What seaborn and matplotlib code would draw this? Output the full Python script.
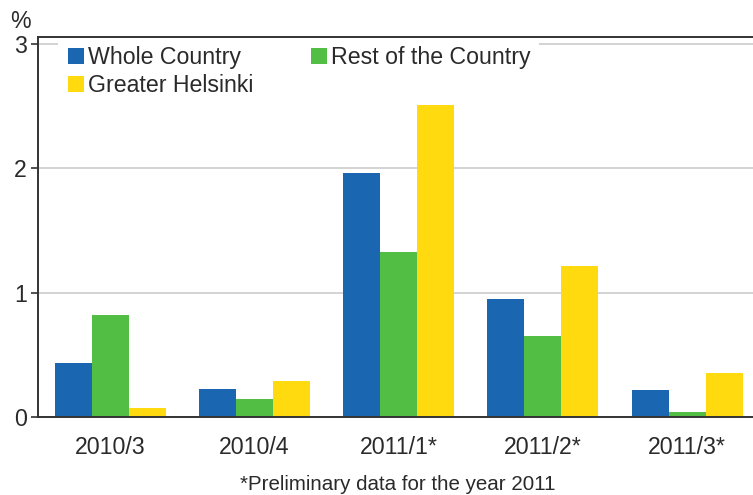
import matplotlib
matplotlib.use("Agg")
import matplotlib.pyplot as plt
from matplotlib.lines import Line2D
import seaborn as sns
import pandas as pd

periods = ["2010/3", "2010/4", "2011/1*", "2011/2*", "2011/3*"]
regions = ["Whole Country", "Rest of the Country", "Greater Helsinki"]
whole_country = [0.43, 0.22, 1.965, 0.945, 0.21]
rest_of_country = [0.815, 0.145, 1.33, 0.65, 0.04]
greater_helsinki = [0.066, 0.285, 2.545, 1.215, 0.35]
y_ticks = [0, 1, 2, 3]
footnote = "*Preliminary data for the year 2011"
y_unit = "%"

colors = {"Whole Country": "#1A66B0", "Rest of the Country": "#52BF44",
          "Greater Helsinki": "#FFDA0E"}

rows = []
for name, vals in zip(regions, [whole_country, rest_of_country, greater_helsinki]):
    for p, v in zip(periods, vals):
        rows.append({"period": p, "region": name, "value": v})
df = pd.DataFrame(rows)

sns.set_theme(style="white")
plt.rcParams["font.family"] = ["Liberation Sans", "DejaVu Sans"]
FS = 16.7
TXT = "#2a2a2a"

fig = plt.figure(figsize=(7.53, 4.95), dpi=100)
ax = fig.add_axes([38 / 753, 1 - 416.5 / 495, 1 - 38 / 753, (416.5 - 37) / 495])

sns.barplot(data=df, x="period", y="value", hue="region", order=periods,
            hue_order=regions, palette=colors, width=0.77, saturation=1,
            linewidth=0, legend=False, ax=ax)

ax.set_xlim(-0.5, 4.456)
ax.set_ylim(0, (416.5 - 37) / 124)
ax.set_yticks(y_ticks)
ax.set_yticklabels([str(t) for t in y_ticks])
ax.yaxis.grid(True, color="#cccccc", linewidth=1.2)
ax.set_axisbelow(True)
ax.set_xlabel("")
ax.set_ylabel("")

for s in ["left", "bottom", "top"]:
    ax.spines[s].set_visible(True)
    ax.spines[s].set_color("#333333")
    ax.spines[s].set_linewidth(1.4)
ax.spines["right"].set_visible(False)

ax.tick_params(axis="y", which="major", left=True, length=5, width=1.2,
               color="#333333", pad=3, labelsize=FS, labelcolor=TXT)
ax.tick_params(axis="x", which="major", bottom=False, length=0, pad=14,
               labelsize=FS, labelcolor=TXT)

order = ["Whole Country", "Greater Helsinki", "Rest of the Country"]
handles = [Line2D([], [], linestyle="none", marker="s", markersize=11,
                  markerfacecolor=colors[r], markeredgewidth=0) for r in order]
leg = ax.legend(handles, order, loc="upper left", bbox_to_anchor=(0.027, 1.0),
                ncol=2, frameon=True, fancybox=False, framealpha=1,
                facecolor="white", edgecolor="none", fontsize=FS,
                handlelength=0.8, handletextpad=0.12, columnspacing=2.45,
                labelspacing=0.22, borderpad=0.35, borderaxespad=0.05)
for t in leg.get_texts():
    t.set_color(TXT)

fig.text(20 / 753, 1 - 21.5 / 495, y_unit, ha="center", va="center",
         fontsize=FS, color=TXT)
fig.text(398 / 753, 1 - 490.5 / 495, footnote, ha="center", va="baseline",
         fontsize=14.8, color=TXT)

fig.savefig("out.png", dpi=100)
